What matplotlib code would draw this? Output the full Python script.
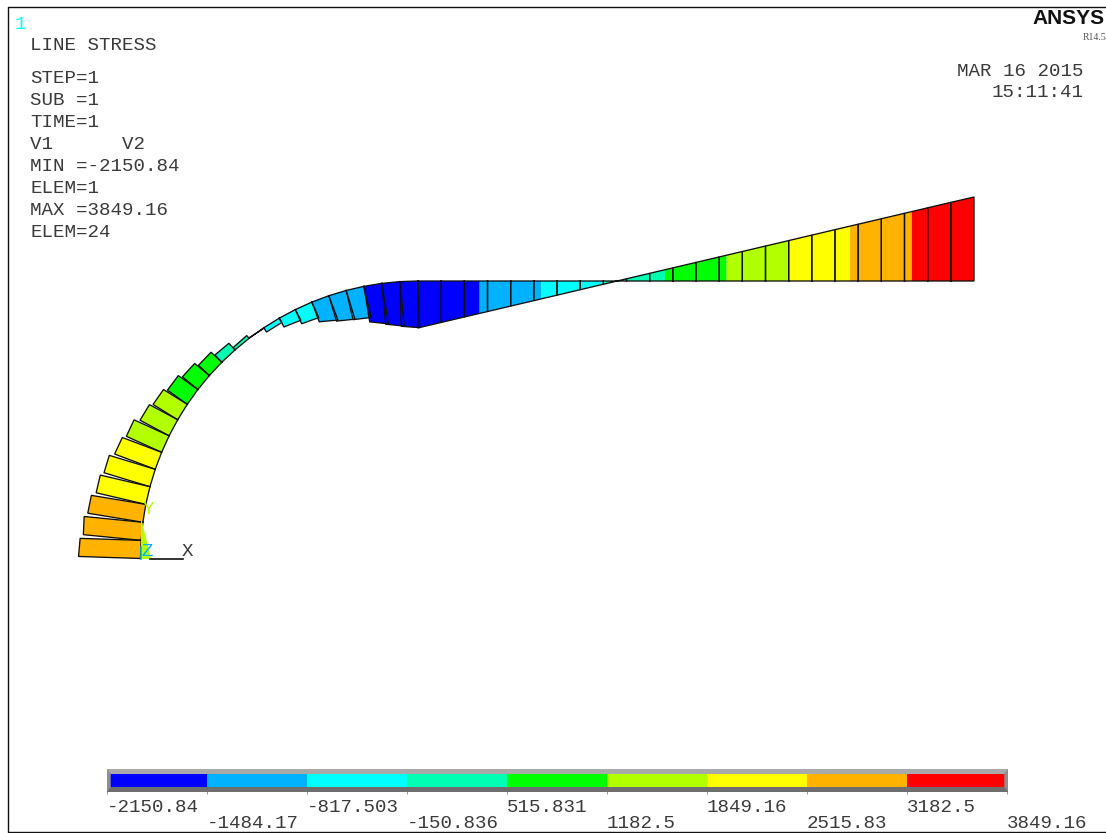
import numpy as np
import matplotlib
matplotlib.use('Agg')
import matplotlib.pyplot as plt

# -----------------------------------------------------------------------------
# Data
# -----------------------------------------------------------------------------

# contour bands
levels = [-2150.84, -1484.17, -817.503, -150.836, 515.831, 1182.5, 1849.16, 2515.83, 3182.5, 3849.16]
level_labels = ['-2150.84', '-1484.17', '-817.503', '-150.836', '515.831', '1182.5', '1849.16', '2515.83', '3182.5', '3849.16']
band_colors = ['#0000ff', '#00b2ff', '#00ffff', '#00ffb2', '#00ff00', '#b2ff00', '#ffff00', '#ffb200', '#ff0000']

# stress at the two ends of each element on the curved part, from the base upwards
arc_stress_i = [2841, 2658, 2560, 2337, 2200, 1989, 1774, 1512, 1329, 1118, 917, 687, 458, 137, 20, -229,
                -458, -710, -962, -1215, -1375, -1650, -1880, -2049]
arc_stress_j = [2796, 2704, 2530, 2337, 2200, 1925, 1764, 1467, 1283, 1100, 871, 674, 412, 165, -20, -229,
                -550, -780, -1192, -1375, -1467, -1880, -2049, -2140]

# stress at the nodes of the straight part, left to right
line_stress = [-2150.84, -1900, -1650, -1400, -1150, -900, -650, -399, -149, 101, 351, 601, 852, 1102, 1352,
               1602, 1852, 2103, 2353, 2603, 2853, 3103, 3354, 3604, 3849.16]

info_lines = [('LINE STRESS', 45), ('STEP=1', 78), ('SUB =1', 100), ('TIME=1', 122), ('V1      V2', 144),
              ('MIN =-2150.84', 166), ('ELEM=1', 188), ('MAX =3849.16', 210), ('ELEM=24', 232)]

# -----------------------------------------------------------------------------
# Geometry of the drawing, in picture pixels
# -----------------------------------------------------------------------------

CENTER_X, CENTER_Y = 418.0, 558.5
RADIUS = 277.5
LINE_END_X = 974.0
PX_PER_STRESS = 0.02182

MONO = 'Liberation Mono'
TEXT_COL = '#3a3a3a'
FONT_SIZE = 13.75

fig = plt.figure(figsize=(11.06, 8.33), dpi=100)
ax = fig.add_axes([0, 0, 1, 1])
ax.set_xlim(0, 1106)
ax.set_ylim(833, 0)
ax.axis('off')


def draw_element(p0, p1, normal, s0, s1):
    """stress diagram of one element, split where it crosses a contour level"""
    cuts = [0.0, 1.0]
    for lvl in levels:
        if s0 != s1:
            t = (lvl - s0) / (s1 - s0)
            if 0 < t < 1:
                cuts.append(t)
    cuts.sort()
    p0, p1, normal = np.array(p0), np.array(p1), np.array(normal)
    for a, b in zip(cuts[:-1], cuts[1:]):
        sa, sb = s0 + a * (s1 - s0), s0 + b * (s1 - s0)
        band = np.clip(np.searchsorted(levels, (sa + sb) / 2) - 1, 0, 8)
        pa, pb = p0 + a * (p1 - p0), p0 + b * (p1 - p0)
        poly = [pa, pb, pb + normal * sb * PX_PER_STRESS, pa + normal * sa * PX_PER_STRESS]
        poly = np.array(poly)
        ax.fill(poly[:, 0], poly[:, 1], color=band_colors[band], lw=0, zorder=2)
    outline = np.array([p0, p0 + normal * s0 * PX_PER_STRESS, p1 + normal * s1 * PX_PER_STRESS, p1, p0])
    ax.plot(outline[:, 0], outline[:, 1], color='#101010', lw=0.95, zorder=3, solid_joinstyle='miter')


# curved part
angles = np.radians(np.linspace(0, 90, len(arc_stress_i) + 1))
for k in range(len(arc_stress_i)):
    a0, a1 = angles[k], angles[k + 1]
    p0 = (CENTER_X - RADIUS * np.cos(a0), CENTER_Y - RADIUS * np.sin(a0))
    p1 = (CENTER_X - RADIUS * np.cos(a1), CENTER_Y - RADIUS * np.sin(a1))
    mid = (a0 + a1) / 2
    draw_element(p0, p1, (-np.cos(mid), -np.sin(mid)), arc_stress_i[k], arc_stress_j[k])

# straight part
line_y = CENTER_Y - RADIUS
line_x = np.linspace(CENTER_X, LINE_END_X, len(line_stress))
for k in range(len(line_stress) - 1):
    draw_element((line_x[k], line_y), (line_x[k + 1], line_y), (0, -1), line_stress[k], line_stress[k + 1])

# triad at the origin
ax.fill([140.5, 140.5, 150.5], [517, 559, 559], color='#b2ff00', lw=0, zorder=4)
ax.plot([141, 141], [547, 558.5], color='#00b2ff', lw=1.2, zorder=5)
ax.plot([150, 183], [558.8, 558.8], color='#101010', lw=1.2, zorder=5)
ax.text(187.5, 552, 'X', family=MONO, fontsize=FONT_SIZE, color=TEXT_COL, ha='center', va='center', zorder=6)
ax.text(148.5, 510, 'Y', family=MONO, fontsize=FONT_SIZE, color='#b2ff00', ha='center', va='center', zorder=6)
ax.text(147, 552, 'Z', family=MONO, fontsize=FONT_SIZE, color='#00b2ff', ha='center', va='center', zorder=6)

# frame
ax.plot([1106, 7.5, 7.5, 1106], [6.5, 6.5, 831.5, 831.5], color='#101010', lw=1.0, zorder=1)

# text blocks
ax.text(15, 24, '1', family=MONO, fontsize=FONT_SIZE, color='#00ffff', va='center')
for txt, y in info_lines:
    ax.text(30, y, txt, family=MONO, fontsize=FONT_SIZE, color=TEXT_COL, va='center')
ax.text(957, 71, 'MAR 16 2015', family=MONO, fontsize=FONT_SIZE, color=TEXT_COL, va='center')
ax.text(992, 92, '15:11:41', family=MONO, fontsize=FONT_SIZE, color=TEXT_COL, va='center')
ax.text(1105, 18, 'ANSYS', family='Liberation Sans', fontweight='bold', fontsize=15, color='#111111', ha='right', va='center')
ax.text(1106, 37, 'R14.5', family='Liberation Serif', fontsize=7, color='#555555', ha='right', va='center')

# contour legend
cax = fig.add_axes([107 / 1106, 1 - 791 / 833, 900 / 1106, 22 / 833])
cax.set_xlim(levels[0], levels[-1])
cax.set_ylim(0, 22)
for k, col in enumerate(band_colors):
    cax.barh(11, levels[k + 1] - levels[k], left=levels[k], height=22, color=col, lw=0)
cax.set_yticks([])
for side in cax.spines.values():
    side.set_visible(False)
cax.set_xticks(levels)
cax.set_xticklabels(level_labels, family=MONO, fontsize=FONT_SIZE, color=TEXT_COL)
cax.tick_params(axis='x', length=2.5, width=0.6, color='#888888')
for k, tick in enumerate(cax.xaxis.get_major_ticks()):
    tick.set_pad(3.3 if k % 2 == 0 else 14.8)
    tick.label1.set_ha('left')

# bevel round the legend
ax.fill([107, 1008, 1008, 107], [769, 769, 773.5, 773.5], color='#a9a9a9', lw=0, zorder=7)
ax.fill([107, 1008, 1008, 107], [787, 787, 791.5, 791.5], color='#6e6e6e', lw=0, zorder=7)
cax.set_zorder(0)
ax.set_zorder(1)
ax.patch.set_visible(False)
ax.fill([107, 110.7, 110.7, 107], [769, 773.5, 787, 791.5], color='#8f8f8f', lw=0, zorder=8)
ax.fill([1008, 1004.3, 1004.3, 1008], [769, 773.5, 787, 791.5], color='#8f8f8f', lw=0, zorder=8)

fig.savefig('out.png', dpi=100)
